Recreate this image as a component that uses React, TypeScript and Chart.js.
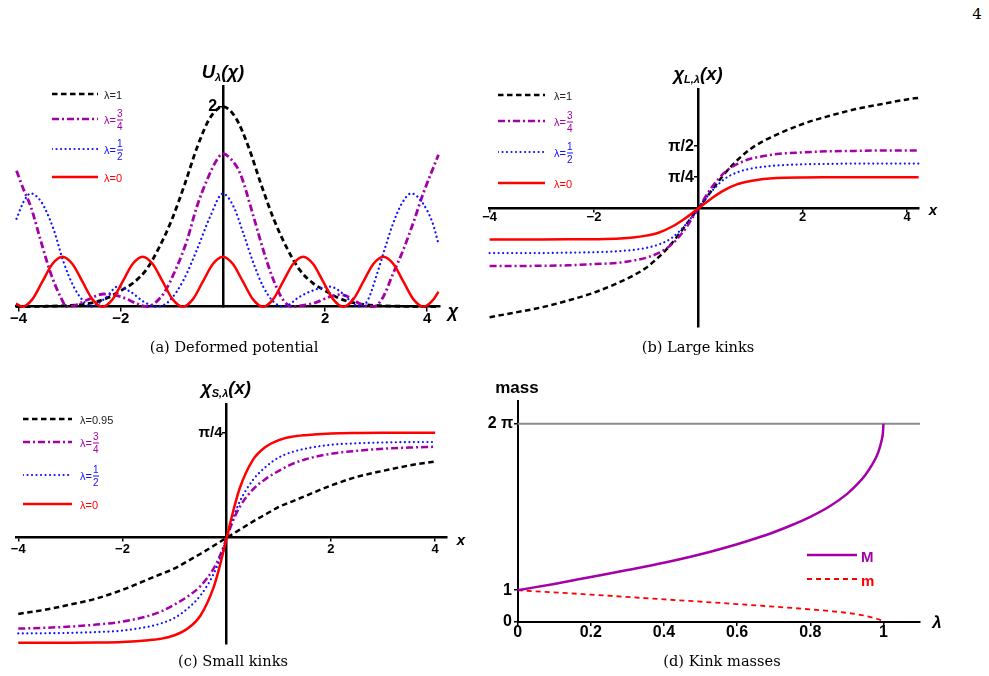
import React, { useEffect, useRef } from 'react';
import { Chart, registerables } from 'chart.js';

Chart.register(...registerables);

const BLACK = '#000000';
const MAGENTA = '#a500a8';
const BLUE = '#1010ff';
const RED = '#ff0000';
const GRAY = '#8c8c8c';
const SANS = "'Liberation Sans', Arial, sans-serif";
const SERIF = "'DejaVu Serif', 'Liberation Serif', serif";

// ---------- (a) Deformed potential ----------
const A_RED_X = [-4.05, -3.927, -3.731, -3.534, -3.338, -3.142, -2.945, -2.749, -2.553, -2.356, -2.16, -1.963, -1.767, -1.571, -1.374, -1.178, -0.982, -0.785, -0.589, -0.393, -0.196, 0, 0.196, 0.393, 0.589, 0.785, 0.982, 1.178, 1.374, 1.571, 1.767, 1.963, 2.16, 2.356, 2.553, 2.749, 2.945, 3.142, 3.338, 3.534, 3.731, 3.927, 4.123, 4.22];
const A_RED_Y = [0.03, 0, 0.073, 0.25, 0.427, 0.5, 0.427, 0.25, 0.073, 0, 0.073, 0.25, 0.427, 0.5, 0.427, 0.25, 0.073, 0, 0.073, 0.25, 0.427, 0.5, 0.427, 0.25, 0.073, 0, 0.073, 0.25, 0.427, 0.5, 0.427, 0.25, 0.073, 0, 0.073, 0.25, 0.427, 0.5, 0.427, 0.25, 0.073, 0, 0.073, 0.15];

const A_BLACK_X = [-4.05, -3.5, -3, -2.75, -2.5, -2.25, -2, -1.75, -1.5, -1.25, -1, -0.75, -0.5, -0.25, 0, 0.25, 0.5, 0.75, 1, 1.25, 1.5, 1.75, 2, 2.25, 2.5, 2.75, 3, 3.5, 4.22];
const A_BLACK_Y = [0.001, 0.004, 0.012, 0.022, 0.045, 0.09, 0.16, 0.24, 0.37, 0.59, 0.87, 1.22, 1.6, 1.89, 2.0, 1.89, 1.6, 1.22, 0.87, 0.59, 0.37, 0.24, 0.16, 0.09, 0.045, 0.022, 0.012, 0.004, 0.001];

const A_MAG_X = [-4.04, -3.9, -3.76, -3.57, -3.37, -3.18, -3.05, -2.9, -2.66, -2.33, -2.0, -1.68, -1.48, -1.35, -1.16, -0.9, -0.7, -0.51, -0.31, -0.12, 0, 0.15, 0.34, 0.6, 0.79, 0.99, 1.18, 1.36, 1.55, 1.77, 2.1, 2.29, 2.49, 2.68, 2.95, 3.14, 3.33, 3.53, 3.72, 3.92, 4.22];
const A_MAG_Y = [1.36, 1.17, 1.0, 0.667, 0.333, 0.1, 0.0, 0.012, 0.067, 0.127, 0.1, 0.03, 0.0, 0.03, 0.133, 0.4, 0.667, 1.0, 1.267, 1.467, 1.53, 1.48, 1.33, 0.9, 0.567, 0.267, 0.067, 0.0, 0.012, 0.033, 0.1, 0.12, 0.09, 0.03, 0.0, 0.1, 0.33, 0.567, 0.83, 1.13, 1.52];

const A_BLUE_X = [-4.04, -3.9, -3.76, -3.62, -3.5, -3.31, -3.11, -2.92, -2.75, -2.59, -2.45, -2.27, -2.07, -1.81, -1.55, -1.29, -1.15, -1.03, -0.77, -0.51, -0.25, 0, 0.21, 0.4, 0.6, 0.79, 0.99, 1.18, 1.3, 1.445, 1.7, 2.1, 2.35, 2.55, 2.72, 2.85, 3.0, 3.17, 3.33, 3.5, 3.69, 3.92, 4.11, 4.22];
const A_BLUE_Y = [0.88, 1.05, 1.133, 1.09, 1.0, 0.767, 0.433, 0.2, 0.067, 0.0, 0.03, 0.1, 0.2, 0.15, 0.05, 0.0, 0.02, 0.067, 0.267, 0.567, 0.9, 1.13, 1.0, 0.733, 0.433, 0.2, 0.05, 0.0, 0.02, 0.08, 0.15, 0.2, 0.13, 0.03, 0.0, 0.08, 0.3, 0.58, 0.83, 1.03, 1.133, 1.03, 0.83, 0.63];

const A_X_TICKS = [-4, -2, 2, 4];
const A_X_LABELS = ['\u22124', '\u22122', '2', '4'];
const A_Y_TICKS = [2];
const A_Y_LABELS = ['2 \u200a'];

// ---------- (b) Large kinks ----------
const B_X = [-4, -3.5, -3, -2.5, -2, -1.5, -1.25, -1, -0.75, -0.5, -0.25, 0, 0.25, 0.5, 0.75, 1, 1.25, 1.5, 2, 2.5, 3, 3.5, 4, 4.22];
const B_BLACK = [-2.75, -2.63, -2.5, -2.33, -2.13, -1.86, -1.7, -1.5, -1.22, -0.87, -0.44, 0, 0.44, 0.87, 1.22, 1.5, 1.7, 1.86, 2.13, 2.33, 2.5, 2.63, 2.75, 2.79];
const B_MAG = [-1.46, -1.46, -1.45, -1.44, -1.41, -1.37, -1.32, -1.25, -1.12, -0.9, -0.52, 0, 0.52, 0.9, 1.12, 1.25, 1.32, 1.37, 1.41, 1.44, 1.45, 1.46, 1.46, 1.46];
const B_BLUE = [-1.13, -1.13, -1.13, -1.12, -1.11, -1.08, -1.05, -1.0, -0.91, -0.74, -0.42, 0, 0.42, 0.74, 0.91, 1.0, 1.05, 1.08, 1.11, 1.12, 1.13, 1.13, 1.13, 1.13];
const B_RED = [-0.785, -0.785, -0.785, -0.784, -0.78, -0.765, -0.74, -0.69, -0.61, -0.46, -0.25, 0, 0.25, 0.46, 0.61, 0.69, 0.74, 0.765, 0.78, 0.784, 0.785, 0.785, 0.785, 0.785];

const B_X_TICKS = [-4, -2, 2, 4];
const B_X_LABELS = ['\u22124', '\u22122', '2', '4'];
const B_Y_TICKS = [Math.PI / 4, Math.PI / 2];
const B_Y_LABELS = ['\u03c0/4 ', '\u03c0/2 '];

// ---------- (c) Small kinks ----------
const C_X = [-4, -3.5, -3, -2.5, -2, -1.5, -1.25, -1, -0.75, -0.5, -0.25, -0.125, 0, 0.125, 0.25, 0.5, 0.75, 1, 1.25, 1.5, 2, 2.5, 3, 3.5, 4];
const C_BLACK = [-0.57, -0.54, -0.5, -0.455, -0.39, -0.31, -0.27, -0.23, -0.175, -0.12, -0.06, -0.03, 0, 0.03, 0.06, 0.12, 0.175, 0.23, 0.27, 0.31, 0.39, 0.455, 0.5, 0.54, 0.57];
const C_MAG = [-0.68, -0.674, -0.665, -0.65, -0.628, -0.585, -0.55, -0.5, -0.44, -0.36, -0.23, -0.13, 0, 0.13, 0.23, 0.36, 0.44, 0.5, 0.55, 0.585, 0.628, 0.65, 0.665, 0.674, 0.68];
const C_BLUE = [-0.716, -0.715, -0.712, -0.706, -0.695, -0.665, -0.64, -0.6, -0.53, -0.43, -0.27, -0.15, 0, 0.15, 0.27, 0.43, 0.53, 0.6, 0.64, 0.665, 0.695, 0.706, 0.712, 0.715, 0.716];
const C_RED = [-0.785, -0.785, -0.785, -0.784, -0.78, -0.767, -0.755, -0.73, -0.68, -0.58, -0.37, -0.2, 0, 0.2, 0.37, 0.58, 0.68, 0.73, 0.755, 0.767, 0.78, 0.784, 0.785, 0.785, 0.785];

const C_X_TICKS = [-4, -2, 2, 4];
const C_X_LABELS = ['\u22124', '\u22122', '2', '4'];
const C_Y_TICKS = [Math.PI / 4];
const C_Y_LABELS = ['\u03c0/4 '];

// ---------- (d) Kink masses ----------
const D_M_X = [0, 0.1, 0.2, 0.3, 0.4, 0.5, 0.6, 0.65, 0.7, 0.75, 0.8, 0.85, 0.9, 0.93, 0.95, 0.97, 0.985, 0.995, 0.999, 1.0];
const D_M_Y = [1.0, 1.2, 1.42, 1.64, 1.87, 2.14, 2.46, 2.64, 2.84, 3.07, 3.33, 3.64, 4.05, 4.38, 4.65, 5.0, 5.35, 5.75, 6.05, 6.283];
const D_SM_X = [0, 0.2, 0.4, 0.6, 0.8, 0.9, 0.95, 1.0];
const D_SM_Y = [1.0, 0.86, 0.71, 0.56, 0.39, 0.28, 0.19, 0.03];
const D_GRAY_X = [0, 1.1];
const D_GRAY_Y = [6.283, 6.283];

const D_X_TICKS = [0, 0.2, 0.4, 0.6, 0.8, 1];
const D_X_LABELS = ['0', '0.2', '0.4', '0.6', '0.8', '1'];
const D_Y_TICKS = [0, 1, 2 * Math.PI];
const D_Y_LABELS = ['0 \u200a', '1 \u200a', '2 \u03c0 '];

type Series = { xs: number[]; ys: number[]; color: string; width: number; dash: number[]; cap?: 'butt' | 'round' };

interface PanelCfg {
  left: number; top: number; width: number; height: number;
  pad: { left: number; right: number; top: number; bottom: number };
  xMin: number; xMax: number; yMin: number; yMax: number;
  xTicks: number[]; xLabels: string[]; yTicks: number[]; yLabels: string[];
  xFont: number; yFont: number; xPad: number; yPad: number; tick: number; axisW: number;
  series: Series[];
}

function Panel({ cfg }: { cfg: PanelCfg }) {
  const ref = useRef<HTMLCanvasElement>(null);
  useEffect(() => {
    const c = cfg;
    const datasets = c.series.slice().reverse().map((s) => ({
      data: s.xs.map((x, i) => ({ x, y: s.ys[i] })),
      showLine: true,
      borderColor: s.color,
      backgroundColor: s.color,
      borderWidth: s.width,
      borderDash: s.dash,
      borderCapStyle: s.cap || 'butt',
      borderJoinStyle: 'round',
      pointRadius: 0,
      pointHoverRadius: 0,
      cubicInterpolationMode: 'monotone',
      fill: false,
      clip: false,
    }));
    const chart = new Chart(ref.current as HTMLCanvasElement, {
      type: 'scatter',
      data: { datasets } as any,
      options: {
        responsive: false,
        maintainAspectRatio: false,
        animation: false,
        devicePixelRatio: 1,
        events: [],
        layout: { padding: c.pad },
        plugins: { legend: { display: false }, tooltip: { enabled: false }, title: { display: false } },
        scales: {
          x: {
            type: 'linear',
            min: c.xMin,
            max: c.xMax,
            position: { y: 0 } as any,
            afterBuildTicks: (axis: any) => { axis.ticks = c.xTicks.map((v) => ({ value: v })); },
            ticks: {
              autoSkip: false, maxRotation: 0, padding: c.xPad, color: '#000',
              font: { family: SANS, size: c.xFont, weight: 'bold' },
              callback: (_v: any, i: number) => c.xLabels[i],
            },
            grid: { display: true, drawOnChartArea: false, drawTicks: true, tickLength: c.tick, color: '#000', lineWidth: 1.5 },
            border: { display: true, color: '#000', width: c.axisW },
          },
          y: {
            type: 'linear',
            min: c.yMin,
            max: c.yMax,
            position: { x: 0 } as any,
            afterBuildTicks: (axis: any) => { axis.ticks = c.yTicks.map((v) => ({ value: v })); },
            ticks: {
              autoSkip: false, padding: c.yPad, color: '#000',
              font: { family: SANS, size: c.yFont, weight: 'bold' },
              callback: (_v: any, i: number) => c.yLabels[i],
            },
            grid: { display: true, drawOnChartArea: false, drawTicks: true, tickLength: c.tick, color: '#000', lineWidth: 1.5 },
            border: { display: true, color: '#000', width: c.axisW },
          },
        },
      } as any,
    });
    return () => chart.destroy();
  }, []);
  return (
    <canvas
      ref={ref}
      width={cfg.width}
      height={cfg.height}
      style={{ position: 'absolute', left: cfg.left, top: cfg.top, width: cfg.width, height: cfg.height }}
    />
  );
}

const blackDash = [5.5, 3.5];
const magDash = [7, 3, 2, 3];
const blueDash = [0.01, 4.5];

const PANEL_A: PanelCfg = {
  left: 0, top: 60, width: 470, height: 280,
  pad: { left: 16, right: 30, top: 26.7, bottom: 33.3 },
  xMin: -4.05, xMax: 4.25, yMin: 0, yMax: 2.2,
  xTicks: A_X_TICKS, xLabels: A_X_LABELS, yTicks: A_Y_TICKS, yLabels: A_Y_LABELS,
  xFont: 15, yFont: 16, xPad: -1, yPad: 2, tick: 4, axisW: 2.5,
  series: [
    { xs: A_BLACK_X, ys: A_BLACK_Y, color: BLACK, width: 2.8, dash: blackDash },
    { xs: A_MAG_X, ys: A_MAG_Y, color: MAGENTA, width: 2.8, dash: magDash },
    { xs: A_BLUE_X, ys: A_BLUE_Y, color: BLUE, width: 2.3, dash: blueDash, cap: 'round' },
    { xs: A_RED_X, ys: A_RED_Y, color: RED, width: 2.5, dash: [] },
  ],
};

const PANEL_B: PanelCfg = {
  left: 470, top: 60, width: 480, height: 280,
  pad: { left: 19.6, right: 31.4, top: 29.5, bottom: 12.9 },
  xMin: -4, xMax: 4.22, yMin: -3, yMax: 3,
  xTicks: B_X_TICKS, xLabels: B_X_LABELS, yTicks: B_Y_TICKS, yLabels: B_Y_LABELS,
  xFont: 13, yFont: 16, xPad: -2, yPad: 2, tick: 3, axisW: 2.5,
  series: [
    { xs: B_X, ys: B_BLACK, color: BLACK, width: 2.5, dash: blackDash },
    { xs: B_X, ys: B_MAG, color: MAGENTA, width: 2.5, dash: magDash },
    { xs: B_X, ys: B_BLUE, color: BLUE, width: 2.2, dash: blueDash, cap: 'round' },
    { xs: B_X, ys: B_RED, color: RED, width: 2.5, dash: [] },
  ],
};

const PANEL_C: PanelCfg = {
  left: 0, top: 380, width: 475, height: 275,
  pad: { left: 16.2, right: 28.4, top: 24, bottom: 11.7 },
  xMin: -4.04, xMax: 4.22, yMin: -0.79, yMax: 1.0,
  xTicks: C_X_TICKS, xLabels: C_X_LABELS, yTicks: C_Y_TICKS, yLabels: C_Y_LABELS,
  xFont: 13, yFont: 15, xPad: 1, yPad: 2, tick: 3, axisW: 2.5,
  series: [
    { xs: C_X, ys: C_BLACK, color: BLACK, width: 2.5, dash: blackDash },
    { xs: C_X, ys: C_MAG, color: MAGENTA, width: 2.5, dash: magDash },
    { xs: C_X, ys: C_BLUE, color: BLUE, width: 2.2, dash: blueDash, cap: 'round' },
    { xs: C_X, ys: C_RED, color: RED, width: 2.5, dash: [] },
  ],
};

const PANEL_D: PanelCfg = {
  left: 480, top: 380, width: 470, height: 270,
  pad: { left: 37.7, right: 30, top: 21.2, bottom: 28.3 },
  xMin: 0, xMax: 1.1, yMin: 0, yMax: 7,
  xTicks: D_X_TICKS, xLabels: D_X_LABELS, yTicks: D_Y_TICKS, yLabels: D_Y_LABELS,
  xFont: 16, yFont: 16, xPad: -2, yPad: 1, tick: 3, axisW: 2,
  series: [
    { xs: D_GRAY_X, ys: D_GRAY_Y, color: GRAY, width: 2, dash: [] },
    { xs: D_SM_X, ys: D_SM_Y, color: RED, width: 1.8, dash: [5, 4] },
    { xs: D_M_X, ys: D_M_Y, color: MAGENTA, width: 2.5, dash: [] },
  ],
};

function Txt({ x, y, children, style }: { x: number; y: number; children: React.ReactNode; style?: React.CSSProperties }) {
  return (
    <div style={{ position: 'absolute', left: x, top: y, transform: 'translate(-50%, -50%)', whiteSpace: 'nowrap', fontFamily: SANS, color: '#000', lineHeight: 1, ...style }}>
      {children}
    </div>
  );
}

function Frac({ n, d }: { n: string; d: string }) {
  return (
    <span style={{ display: 'inline-flex', flexDirection: 'column', alignItems: 'center', fontSize: 10, lineHeight: '10px', marginLeft: 1 }}>
      <span>{n}</span>
      <span style={{ borderTop: '1px solid currentColor', paddingTop: 1, marginTop: 1 }}>{d}</span>
    </span>
  );
}

type LegItem = { y: number; color: string; dash: string; width: number; cap?: 'butt' | 'round'; label: React.ReactNode; textColor: string; fontSize?: number; bold?: boolean };

function Legend({ x1, x2, tx, items }: { x1: number; x2: number; tx: number; items: LegItem[] }) {
  return (
    <>
      {items.map((it, i) => (
        <React.Fragment key={i}>
          <svg width={x2 - x1} height={10} style={{ position: 'absolute', left: x1, top: it.y - 5 }}>
            <line x1={0} y1={5} x2={x2 - x1} y2={5} stroke={it.color} strokeWidth={it.width} strokeDasharray={it.dash || undefined} strokeLinecap={it.cap || 'butt'} />
          </svg>
          <div style={{ position: 'absolute', left: tx, top: it.y + 1, transform: 'translateY(-50%)', display: 'flex', alignItems: 'center', fontFamily: SANS, fontSize: it.fontSize || 11, fontWeight: it.bold ? 'bold' : 'normal', color: it.textColor, whiteSpace: 'nowrap', lineHeight: 1 }}>
            {it.label}
          </div>
        </React.Fragment>
      ))}
    </>
  );
}

function lamItems(ys: number[], first: string): LegItem[] {
  return [
    { y: ys[0], color: BLACK, dash: '5.5 3.5', width: 2.5, label: <span>{'\u03bb=' + first}</span>, textColor: '#222' },
    { y: ys[1], color: MAGENTA, dash: '7 3 2 3', width: 2.5, label: <><span>{'\u03bb='}</span><Frac n="3" d="4" /></>, textColor: MAGENTA },
    { y: ys[2], color: BLUE, dash: '0.01 4.5', width: 2.2, cap: 'round', label: <><span>{'\u03bb='}</span><Frac n="1" d="2" /></>, textColor: BLUE },
    { y: ys[3], color: RED, dash: '', width: 2.5, label: <span>{'\u03bb=0'}</span>, textColor: RED },
  ];
}

const titleStyle: React.CSSProperties = { fontWeight: 'bold', fontStyle: 'italic', fontSize: 18.5 };
const subStyle: React.CSSProperties = { fontSize: 11, verticalAlign: '-3px' };
const capStyle: React.CSSProperties = { fontFamily: SERIF, fontSize: 14.6 };

export default function App() {
  return (
    <div style={{ position: 'absolute', left: 0, top: 0, width: 989, height: 676, background: '#fff', overflow: 'hidden' }}>
      <Txt x={977} y={14} style={{ fontFamily: SERIF, fontSize: 15 }}>4</Txt>

      <Panel cfg={PANEL_A} />
      <Panel cfg={PANEL_B} />
      <Panel cfg={PANEL_C} />
      <Panel cfg={PANEL_D} />

      {/* (a) */}
      <Txt x={223} y={73} style={titleStyle}>U<span style={subStyle}>{'\u03bb'}</span>({'\u03c7'})</Txt>
      <Txt x={453} y={311} style={{ ...titleStyle, fontSize: 18 }}>{'\u03c7'}</Txt>
      <Legend x1={52} x2={98} tx={104} items={lamItems([93.5, 119, 148.5, 176.5], '1')} />
      <Txt x={234} y={347} style={capStyle}>(a) Deformed potential</Txt>

      {/* (b) */}
      <Txt x={698} y={75} style={titleStyle}>{'\u03c7'}<span style={subStyle}>{'L,\u03bb'}</span>(x)</Txt>
      <Txt x={933} y={209} style={{ ...titleStyle, fontSize: 15 }}>x</Txt>
      <Legend x1={498} x2={545} tx={554} items={lamItems([95, 121, 152, 183], '1')} />
      <Txt x={698} y={347} style={capStyle}>(b) Large kinks</Txt>

      {/* (c) */}
      <Txt x={226} y={389} style={titleStyle}>{'\u03c7'}<span style={subStyle}>{'S,\u03bb'}</span>(x)</Txt>
      <Txt x={461} y={539} style={{ ...titleStyle, fontSize: 15 }}>x</Txt>
      <Legend x1={23} x2={72} tx={80} items={lamItems([418.5, 442, 474.5, 504], '0.95')} />
      <Txt x={233} y={661} style={capStyle}>(c) Small kinks</Txt>

      {/* (d) */}
      <Txt x={517} y={387} style={{ fontWeight: 'bold', fontSize: 17 }}>mass</Txt>
      <Txt x={937} y={622} style={{ ...titleStyle, fontSize: 17 }}>{'\u03bb'}</Txt>
      <Legend
        x1={807}
        x2={857}
        tx={861}
        items={[
          { y: 555, color: MAGENTA, dash: '', width: 2.5, label: <span>M</span>, textColor: MAGENTA, fontSize: 15, bold: true },
          { y: 578.5, color: RED, dash: '5 4', width: 1.8, label: <span>m</span>, textColor: RED, fontSize: 15, bold: true },
        ]}
      />
      <Txt x={722} y={661} style={capStyle}>(d) Kink masses</Txt>
    </div>
  );
}
